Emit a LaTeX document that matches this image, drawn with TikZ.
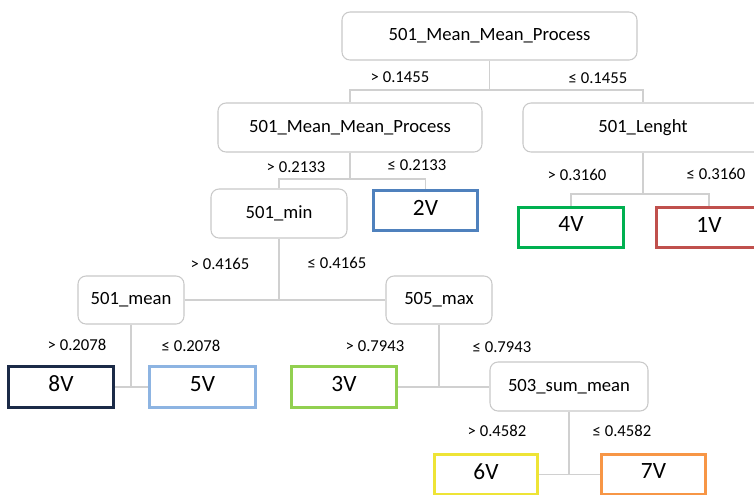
\documentclass[tikz,border=0pt]{standalone}
\usepackage{fontspec}
\setmainfont{Carlito}
\definecolor{boxgray}{HTML}{C9C9C9}
\definecolor{linegray}{HTML}{D0D0D0}
\definecolor{cBlue}{HTML}{4F81BD}
\definecolor{cGreen}{HTML}{00B050}
\definecolor{cRed}{HTML}{C0504D}
\definecolor{cNavy}{HTML}{1B2A47}
\definecolor{cLightBlue}{HTML}{8DB4E2}
\definecolor{cLightGreen}{HTML}{92D050}
\definecolor{cYellow}{HTML}{EEE436}
\definecolor{cOrange}{HTML}{F79646}
\begin{document}
\begin{tikzpicture}[x=0.75pt,y=-0.75pt,
  sz/.style n args={2}{minimum width={#1*0.75pt},minimum height={#2*0.75pt}},
  inode/.style={draw=boxgray, line width=0.8pt, rounded corners=6pt, fill=white,
    font=\fontsize{14}{16}\selectfont, inner sep=0pt},
  leaf/.style={draw=#1, line width=2.6pt, fill=white, text depth=4.5pt,
    font=\fontsize{17.5}{20}\selectfont, inner sep=0pt},
  cond/.style={font=\fontsize{12.5}{14}\selectfont, inner sep=0pt},
  conn/.style={draw=linegray, line width=1.1pt}]
\clip (0,0) rectangle (754,494);
\fill[white] (0,0) rectangle (754,494);

% connectors first (behind nodes)
\coordinate (j1) at (489.5,90);
\coordinate (j2) at (350,179);
\coordinate (j3) at (643,194);

% nodes
\node[inode, sz={295}{48}] (root) at (489.5,36) {501\_Mean\_Mean\_Process};
\node[inode, sz={264}{49}] (n2l) at (350,127.5) {501\_Mean\_Mean\_Process};
\node[inode, sz={240}{49}] (n2r) at (643,127.5) {501\_Lenght};
\node[inode, sz={136}{49}] (nmin) at (279,213.5) {501\_min};
\node[leaf=cBlue, sz={104}{40}] (v2) at (425.5,210.5) {2V};
\node[leaf=cGreen, sz={105}{40}] (v4) at (571,227.5) {4V};
\node[leaf=cRed, sz={105}{40}] (v1) at (709,227.5) {1V};
\node[inode, sz={106}{48}] (nmean) at (131,300) {501\_mean};
\node[inode, sz={106}{48}] (nmax) at (439,300) {505\_max};
\node[leaf=cNavy, sz={105}{41}] (v8) at (61,387) {8V};
\node[leaf=cLightBlue, sz={106}{41}] (v5) at (202.5,387) {5V};
\node[leaf=cLightGreen, sz={105}{41}] (v3) at (344,387) {3V};
\node[inode, sz={158}{49}] (nsum) at (569,386.5) {503\_sum\_mean};
\node[leaf=cYellow, sz={103}{40}] (v6) at (486,474.5) {6V};
\node[leaf=cOrange, sz={104}{40}] (v7) at (653.5,474.5) {7V};

% connectors
\begin{scope}[on background layer/.try]
\end{scope}
\draw[conn] (root.south) -- (j1);
\draw[conn] (n2l.north) |- (j1) -| (n2r.north);
\draw[conn] (n2l.south) -- (j2);
\draw[conn] (nmin.north) |- (j2) -| (v2.north);
\draw[conn] (n2r.south) -- (j3);
\draw[conn] (v4.north) |- (j3) -| (v1.north);
\draw[conn] (nmin.south) -- (nmin.south |- nmean.east);
\draw[conn] (nmean.east) -- (nmax.west);
\draw[conn] (nmean.south) -- (nmean.south |- v8.east);
\draw[conn] (v8.east) -- (v5.west);
\draw[conn] (nmax.south) -- (nmax.south |- v3.east);
\draw[conn] (v3.east) -- (nsum.west |- v3.east);
\draw[conn] (nsum.south) -- (nsum.south |- v6.east);
\draw[conn] (v6.east) -- (v7.west);

% condition labels
\node[cond] (c1a) at (400,77) {> 0.1455};
\node[cond] (c1b) at (598,78) {≤ 0.1455};
\node[cond] (c2a) at (296,167) {> 0.2133};
\node[cond] (c2b) at (417,165) {≤ 0.2133};
\node[cond] (c3a) at (577,175) {> 0.3160};
\node[cond] (c3b) at (716,174) {≤ 0.3160};
\node[cond] (c4a) at (220,264) {> 0.4165};
\node[cond] (c4b) at (337,263) {≤ 0.4165};
\node[cond] (c5a) at (77,345) {> 0.2078};
\node[cond] (c5b) at (191,346) {≤ 0.2078};
\node[cond] (c6a) at (375,346) {> 0.7943};
\node[cond] (c6b) at (502,347) {≤ 0.7943};
\node[cond] (c7a) at (497,431) {> 0.4582};
\node[cond] (c7b) at (622,431) {≤ 0.4582};
\end{tikzpicture}
\end{document}
